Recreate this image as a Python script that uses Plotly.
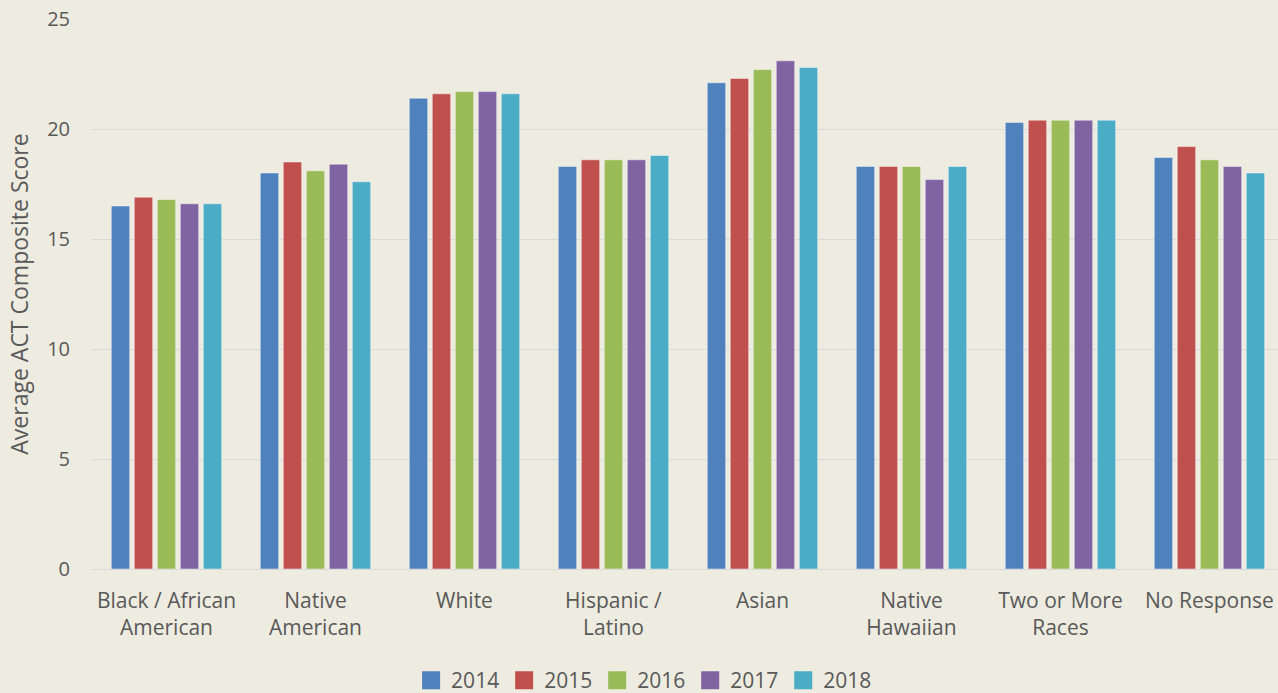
import plotly.graph_objects as go

categories = ["Black / African<br>American", "Native<br>American", "White", "Hispanic /<br>Latino",
              "Asian", "Native<br>Hawaiian", "Two or More<br>Races", "No Response"]
years = ["2014", "2015", "2016", "2017", "2018"]
v2014 = [16.5, 18.0, 21.4, 18.3, 22.1, 18.3, 20.3, 18.7]
v2015 = [16.9, 18.5, 21.6, 18.6, 22.3, 18.3, 20.4, 19.2]
v2016 = [16.8, 18.1, 21.7, 18.6, 22.7, 18.3, 20.4, 18.6]
v2017 = [16.6, 18.4, 21.7, 18.6, 23.1, 17.7, 20.4, 18.3]
v2018 = [16.6, 17.6, 21.6, 18.8, 22.8, 18.3, 20.4, 18.0]
series = [v2014, v2015, v2016, v2017, v2018]
colors = ["#4F81BD", "#C0504D", "#9BBB59", "#8064A2", "#4BACC6"]

fig = go.Figure()
for y, vals, c in zip(years, series, colors):
    fig.add_trace(go.Bar(name=y, x=categories, y=vals, marker_color=c, showlegend=False,
                         marker_line=dict(color="rgba(255,255,255,0.45)", width=1)))
# legend entries with larger square swatches
for y, c in zip(years, colors):
    fig.add_trace(go.Scatter(name=y, x=[categories[0]], y=[None], mode="markers",
                             marker=dict(symbol="square", size=16, color=c,
                                         line=dict(color=c, width=2)),
                             showlegend=True, hoverinfo="skip"))

font = "Open Sans, Liberation Sans, sans-serif"
fig.update_layout(
    width=1278, height=693,
    paper_bgcolor="#EEEBE0", plot_bgcolor="#EEEBE0",
    barmode="group", bargap=0.228, bargroupgap=0.2,
    margin=dict(l=92, r=0, t=19, b=124),
    font=dict(family=font, size=20, color="#595959"),
    showlegend=True,
    legend=dict(orientation="h", xref="container", x=0.504, xanchor="center",
                yref="container", y=0.018, yanchor="middle",
                font=dict(size=21, color="#595959"), itemwidth=30,
                tracegroupgap=0, traceorder="normal", bgcolor="rgba(0,0,0,0)"),
    yaxis=dict(range=[0, 25], dtick=5, showgrid=True, gridcolor="#D9D9D9", gridwidth=1,
               zeroline=True, zerolinecolor="#D9D9D9", zerolinewidth=1,
               title=dict(text="Average ACT Composite Score", font=dict(size=23, color="#595959"), standoff=12),
               tickfont=dict(size=20, color="#595959"), ticks="", ticklabelstandoff=21),
    xaxis=dict(showgrid=False, showline=False, ticks="", ticklabelstandoff=17,
               range=[-0.5, 7.46],
               tickfont=dict(size=21, color="#595959")),
)
fig.write_html("out.html", post_script="document.body.style.margin='0';",
               config={"displayModeBar": False})
